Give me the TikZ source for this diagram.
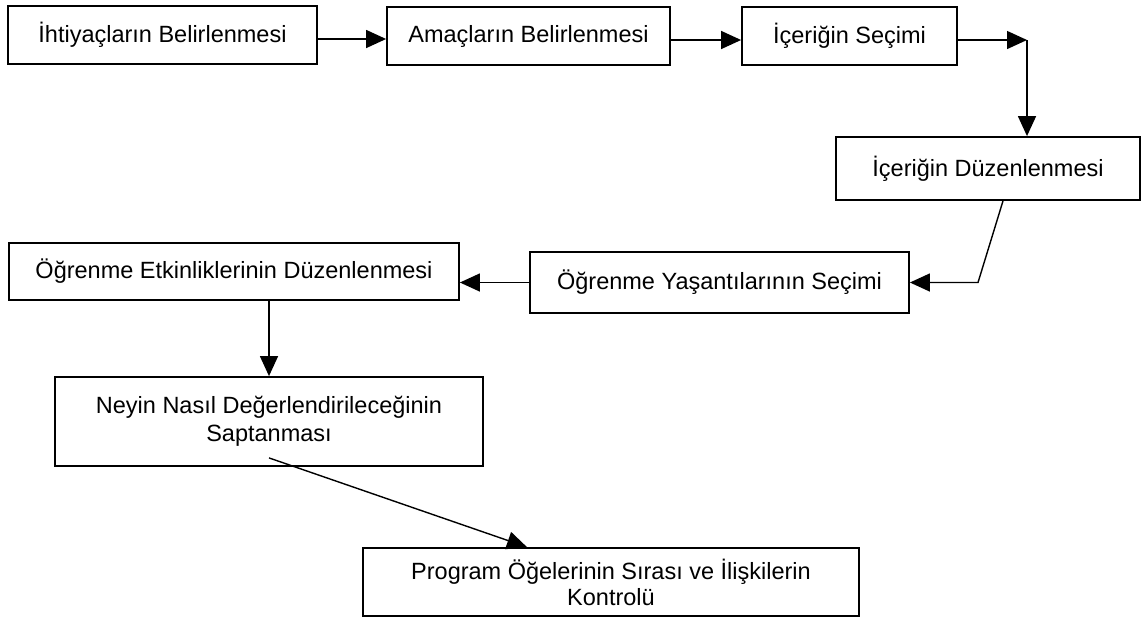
\documentclass[tikz,border=0pt]{standalone}
\usepackage{fontspec}
\setmainfont{Liberation Sans}
\usetikzlibrary{arrows.meta}
\begin{document}
\begin{tikzpicture}[x=1pt,y=-1pt,
 box/.style={draw, line width=1.8pt, inner sep=0pt, font=\fontsize{23.5}{28}\selectfont, align=center},
 conn/.style={line width=1.4pt, -{Triangle[length=20pt,width=18pt]}}]
\useasboundingbox (0,0) rectangle (1142,619);
\node[box, minimum width=309pt, minimum height=58pt] (b1) at (162.5,35) {İhtiyaçların Belirlenmesi};
\node[box, minimum width=283pt, minimum height=58pt] (b2) at (528.5,36) {Amaçların Belirlenmesi};
\node[box, minimum width=215pt, minimum height=58pt] (b3) at (849.5,36) {İçeriğin Seçimi};
\node[box, minimum width=304pt, minimum height=63pt] (b4) at (988,168.5) {İçeriğin Düzenlenmesi};
\node[box, minimum width=450pt, minimum height=57pt] (b5) at (234,271.5) {Öğrenme Etkinliklerinin Düzenlenmesi};
\node[box, minimum width=379pt, minimum height=61pt] (b6) at (719.5,282.5) {Öğrenme Yaşantılarının Seçimi};
\node[box, minimum width=428pt, minimum height=89pt] (b7) at (269,421.5) {Neyin Nasıl Değerlendirileceğinin\\Saptanması};
\node[box, minimum width=496pt, minimum height=68pt, font=\fontsize{23.5}{26}\selectfont] (b8) at (611,582) {Program Öğelerinin Sırası ve İlişkilerin\\Kontrolü};
\coordinate (c1) at (1027,40);
\coordinate (c2) at (978,282.5);
\draw[conn] ([yshift=-4pt]b1.east) -- ([yshift=-4pt]b1.east -| b2.west);
\draw[conn] ([yshift=-4pt]b2.east) -- ([yshift=-4pt]b2.east -| b3.west);
\draw[conn] (b3.east |- c1) -- (c1);
\draw[conn] (c1) -- (c1 |- b4.north);
\draw[conn] ([xshift=15pt]b4.south) -- (c2) -- (b6.east);
\draw[conn] (b6.west) -- (b6.west -| b5.east);
\draw[conn] (b7.north |- b5.south) -- (b7.north);
\draw[conn] ([yshift=9pt]b7.south) -- ([xshift=-84pt]b8.north);
\end{tikzpicture}
\end{document}
